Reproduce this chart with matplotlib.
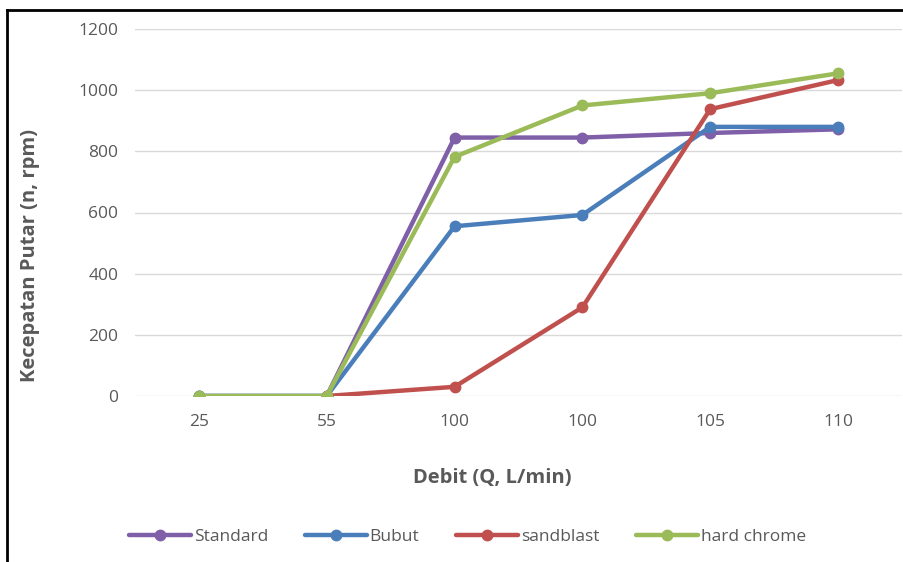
import numpy as np
import matplotlib.pyplot as plt
from matplotlib.lines import Line2D

# -----------------------------
# DATA
# -----------------------------
debit_labels = ["25", "55", "100", "100", "105", "110"]
standard = [0, 0, 845, 845, 860, 872]
bubut = [0, 0, 555, 592, 880, 880]
sandblast = [np.nan, 0, 30, 290, 938, 1033]
hard_chrome = [0, 0, 782, 950, 990, 1055]

series_names = ["Standard", "Bubut", "sandblast", "hard chrome"]
series_values = [standard, bubut, sandblast, hard_chrome]
series_colors = ["#7f5fa8", "#4a7ebb", "#c0504d", "#9bbb59"]

plt.rcParams['font.family'] = ['Open Sans', 'DejaVu Sans']

W, H = 904, 562
fig = plt.figure(figsize=(W / 100, H / 100), dpi=100)

# plot area in pixels
left, right, top, bottom = 135, 902, 29, 396
ax = fig.add_axes([left / W, 1 - bottom / H, (right - left) / W, (bottom - top) / H])

x = np.arange(len(debit_labels))
for name, vals, col in zip(series_names, series_values, series_colors):
    ax.plot(x, vals, color=col, lw=3.2, marker='o', ms=7.5, label=name,
            solid_capstyle='round', solid_joinstyle='round')

ax.set_xlim(-0.5, len(debit_labels) - 0.5)
ax.set_ylim(0, 1200)
ax.set_yticks(range(0, 1201, 200))
ax.set_xticks(x)
ax.set_xticklabels(debit_labels)
ax.grid(axis='y', color='#d9d9d9', lw=1)
ax.set_axisbelow(True)
for s in ax.spines.values():
    s.set_visible(False)
ax.tick_params(length=0, labelsize=12.5, colors='#595959')
ax.tick_params(axis='x', pad=13)
ax.tick_params(axis='y', pad=12)

ax.set_xlabel("Debit (Q, L/min)", fontsize=14.5, fontweight='bold', color='#595959')
ax.set_ylabel("Kecepatan Putar (n, rpm)", fontsize=14.5, fontweight='bold', color='#595959')
ax.xaxis.set_label_coords((492 - left) / (right - left), (bottom - 478) / (bottom - top))
ax.yaxis.set_label_coords((30 - left) / (right - left), (bottom - 255) / (bottom - top))
ax.xaxis.label.set_va('center')
ax.yaxis.label.set_va('center')

leg = fig.legend(loc='center', bbox_to_anchor=(0.517, 1 - 537 / H), ncol=4, frameon=False,
                 fontsize=12.5, handlelength=3.6, columnspacing=2.1, handletextpad=0.15,
                 labelcolor='#595959')

# outer frame (top and left only)
fig.add_artist(Line2D([7 / W, 7 / W], [0, 1 - 10 / H], color='black', lw=2))
fig.add_artist(Line2D([7 / W, 1], [1 - 10 / H, 1 - 10 / H], color='black', lw=2))

fig.savefig("out.png", dpi=100)
